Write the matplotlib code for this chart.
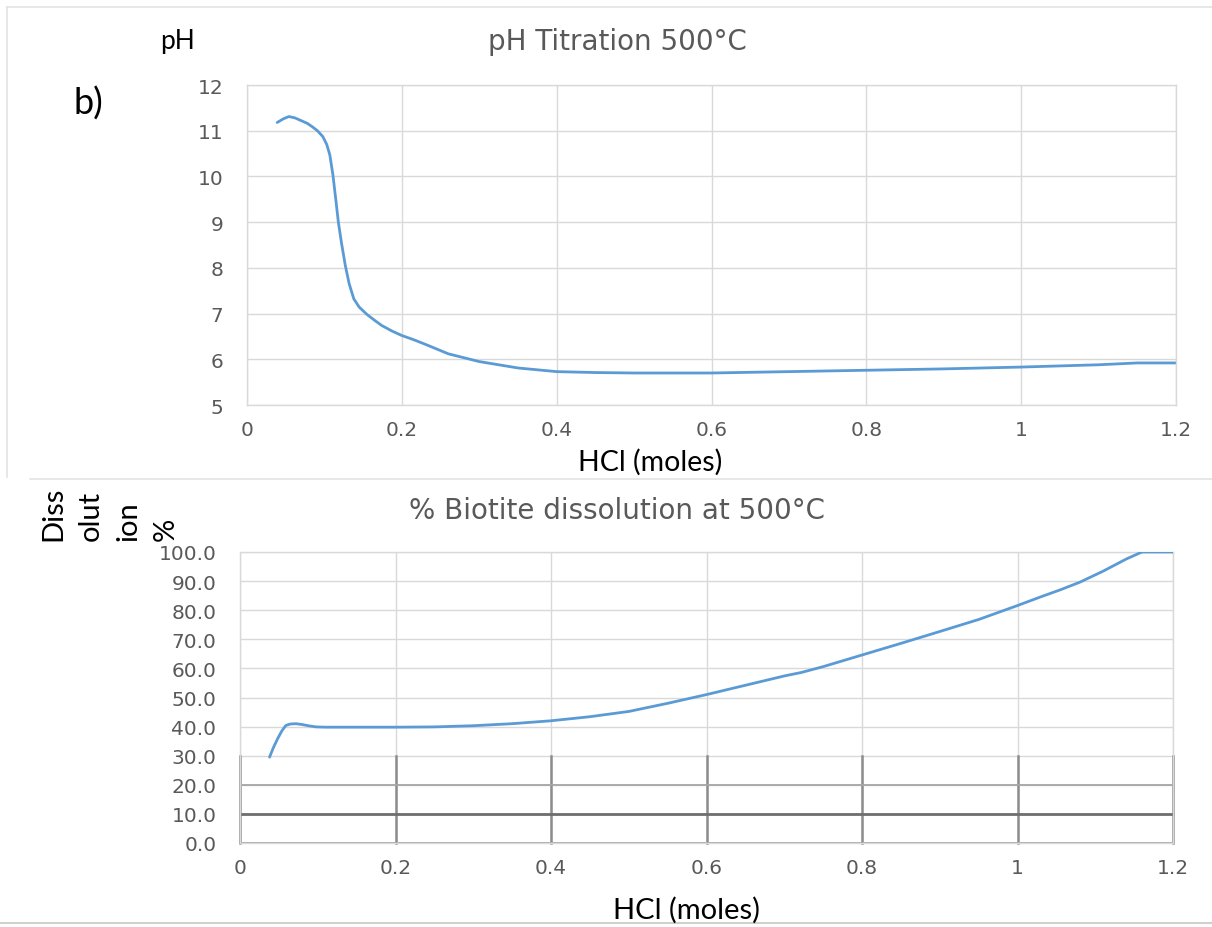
import matplotlib
matplotlib.use("Agg")
import matplotlib.pyplot as plt
from matplotlib.lines import Line2D

# ---------------- data ----------------
x_ph = [0.039, 0.047, 0.054, 0.062, 0.070, 0.078, 0.084, 0.091, 0.098, 0.103, 0.107,
        0.111, 0.115, 0.118, 0.122, 0.127, 0.132, 0.138, 0.145, 0.155, 0.165, 0.174,
        0.187, 0.200, 0.215, 0.230, 0.260, 0.300, 0.350, 0.400, 0.450, 0.500, 0.600,
        0.700, 0.800, 0.900, 1.000, 1.100, 1.150, 1.200]
ph = [11.18, 11.26, 11.31, 11.28, 11.22, 11.16, 11.09, 11.00, 10.87, 10.70, 10.47,
      10.03, 9.45, 9.00, 8.55, 8.05, 7.65, 7.32, 7.14, 6.98, 6.85, 6.74,
      6.62, 6.52, 6.43, 6.33, 6.12, 5.95, 5.81, 5.73, 5.71, 5.70, 5.70,
      5.73, 5.76, 5.79, 5.83, 5.88, 5.92, 5.92]

x_diss = [0.038, 0.043, 0.0485, 0.054, 0.059, 0.065, 0.072, 0.080, 0.090, 0.098, 0.110,
          0.150, 0.200, 0.250, 0.300, 0.350, 0.400, 0.450, 0.500, 0.550, 0.600, 0.650,
          0.700, 0.722, 0.750, 0.800, 0.850, 0.893, 0.950, 1.000, 1.030, 1.055, 1.080,
          1.110, 1.140, 1.160, 1.180, 1.200]
diss = [29.5, 32.8, 35.9, 38.6, 40.4, 40.9, 41.0, 40.7, 40.2, 39.9, 39.8,
        39.8, 39.8, 39.9, 40.3, 41.0, 42.0, 43.4, 45.2, 48.0, 51.0, 54.2,
        57.4, 58.6, 60.6, 64.6, 68.6, 72.1, 76.8, 81.6, 84.6, 87.0, 89.6,
        93.4, 97.6, 100.0, 100.0, 100.0]

x_ticks = [0, 0.2, 0.4, 0.6, 0.8, 1.0, 1.2]
x_labels = ["0", "0.2", "0.4", "0.6", "0.8", "1", "1.2"]
ph_ticks = [5, 6, 7, 8, 9, 10, 11, 12]
diss_ticks = [0, 10, 20, 30, 40, 50, 60, 70, 80, 90, 100]
diss_labels = ["%.1f" % v for v in diss_ticks]

# ---------------- style ----------------
plt.rcParams["font.family"] = ["DejaVu Sans"]
LINE = "#5B9BD5"
GRID = "#d9d9d9"
TICK = "#595959"
BLACK_FONT = ["Lato", "DejaVu Sans"]

fig = plt.figure(figsize=(12.12, 9.28), dpi=100)

def style_axes(ax):
    for s in ax.spines.values():
        s.set_color(GRID)
        s.set_linewidth(1.0)
    ax.tick_params(length=0, colors=TICK, labelsize=14.5)
    ax.tick_params(axis="y", pad=17)
    ax.tick_params(axis="x", pad=11)
    ax.grid(True, color=GRID, linewidth=1.0)
    ax.set_axisbelow(True)

# ---------------- top chart ----------------
ax1 = fig.add_axes([247 / 1212, 1 - 406 / 928, 929 / 1212, 320 / 928])
ax1.plot(x_ph, ph, color=LINE, linewidth=2.0, solid_capstyle="round")
ax1.set_xlim(0, 1.2)
ax1.set_ylim(5, 12)
ax1.set_xticks(x_ticks)
ax1.set_xticklabels(x_labels)
ax1.set_yticks(ph_ticks)
style_axes(ax1)

fig.text(617 / 1212, 1 - 42 / 928, "pH Titration 500°C", ha="center", va="center",
         color=TICK, fontsize=20)
fig.text(160 / 1212, 1 - 42 / 928, "pH", ha="left", va="center",
         fontsize=19, family=BLACK_FONT)
fig.text(74 / 1212, 1 - 104 / 928, "b)", ha="left", va="center",
         fontsize=26, family=BLACK_FONT)
fig.text(650 / 1212, 1 - 462 / 928, "HCl (moles)", ha="center", va="center",
         fontsize=20.5, family=BLACK_FONT)

# ---------------- bottom chart ----------------
ax2 = fig.add_axes([240 / 1212, 1 - 844 / 928, 933 / 1212, 291 / 928])
ax2.plot(x_diss, diss, color=LINE, linewidth=2.0, solid_capstyle="round", zorder=3)
ax2.set_xlim(0, 1.2)
ax2.set_ylim(0, 100)
ax2.set_xticks(x_ticks)
ax2.set_xticklabels(x_labels)
ax2.set_yticks(diss_ticks)
ax2.set_yticklabels(diss_labels)
style_axes(ax2)
# darker scanned-looking grid in the lower band (0-30)
for xv in x_ticks:
    ax2.plot([xv, xv], [0, 30], color="#8c8c8c", linewidth=1.8, zorder=2, clip_on=False)
ax2.plot([0, 1.2], [20, 20], color="#a6a6a6", linewidth=1.3, zorder=2)
ax2.plot([0, 1.2], [10, 10], color="#6e6e6e", linewidth=2.0, zorder=2)
ax2.plot([0, 1.2], [0, 0], color="#a6a6a6", linewidth=1.3, zorder=2, clip_on=False)

fig.text(617 / 1212, 1 - 511 / 928, "% Biotite dissolution at 500°C", ha="center",
         va="center", color=TICK, fontsize=20)
fig.text(40 / 1212, 1 - 541 / 928, "Diss\nolut\nion\n%", ha="left", va="bottom",
         rotation=90, multialignment="left", fontsize=21, family=BLACK_FONT,
         linespacing=1.55)
fig.text(687 / 1212, 1 - 910 / 928, "HCl (moles)", ha="center", va="center",
         fontsize=21, family=BLACK_FONT)

# ---------------- frame lines ----------------
def fline(x0, y0, x1, y1, c="#e3e3e3", lw=1.2):
    fig.add_artist(Line2D([x0 / 1212, x1 / 1212], [1 - y0 / 928, 1 - y1 / 928],
                          color=c, linewidth=lw))

fline(7, 8, 1212, 8)
fline(7, 8, 7, 478)
fline(30, 480, 1212, 480)
fline(0, 924, 1212, 924, c="#d0d0d0", lw=1.5)

fig.savefig("out.png", dpi=100)
